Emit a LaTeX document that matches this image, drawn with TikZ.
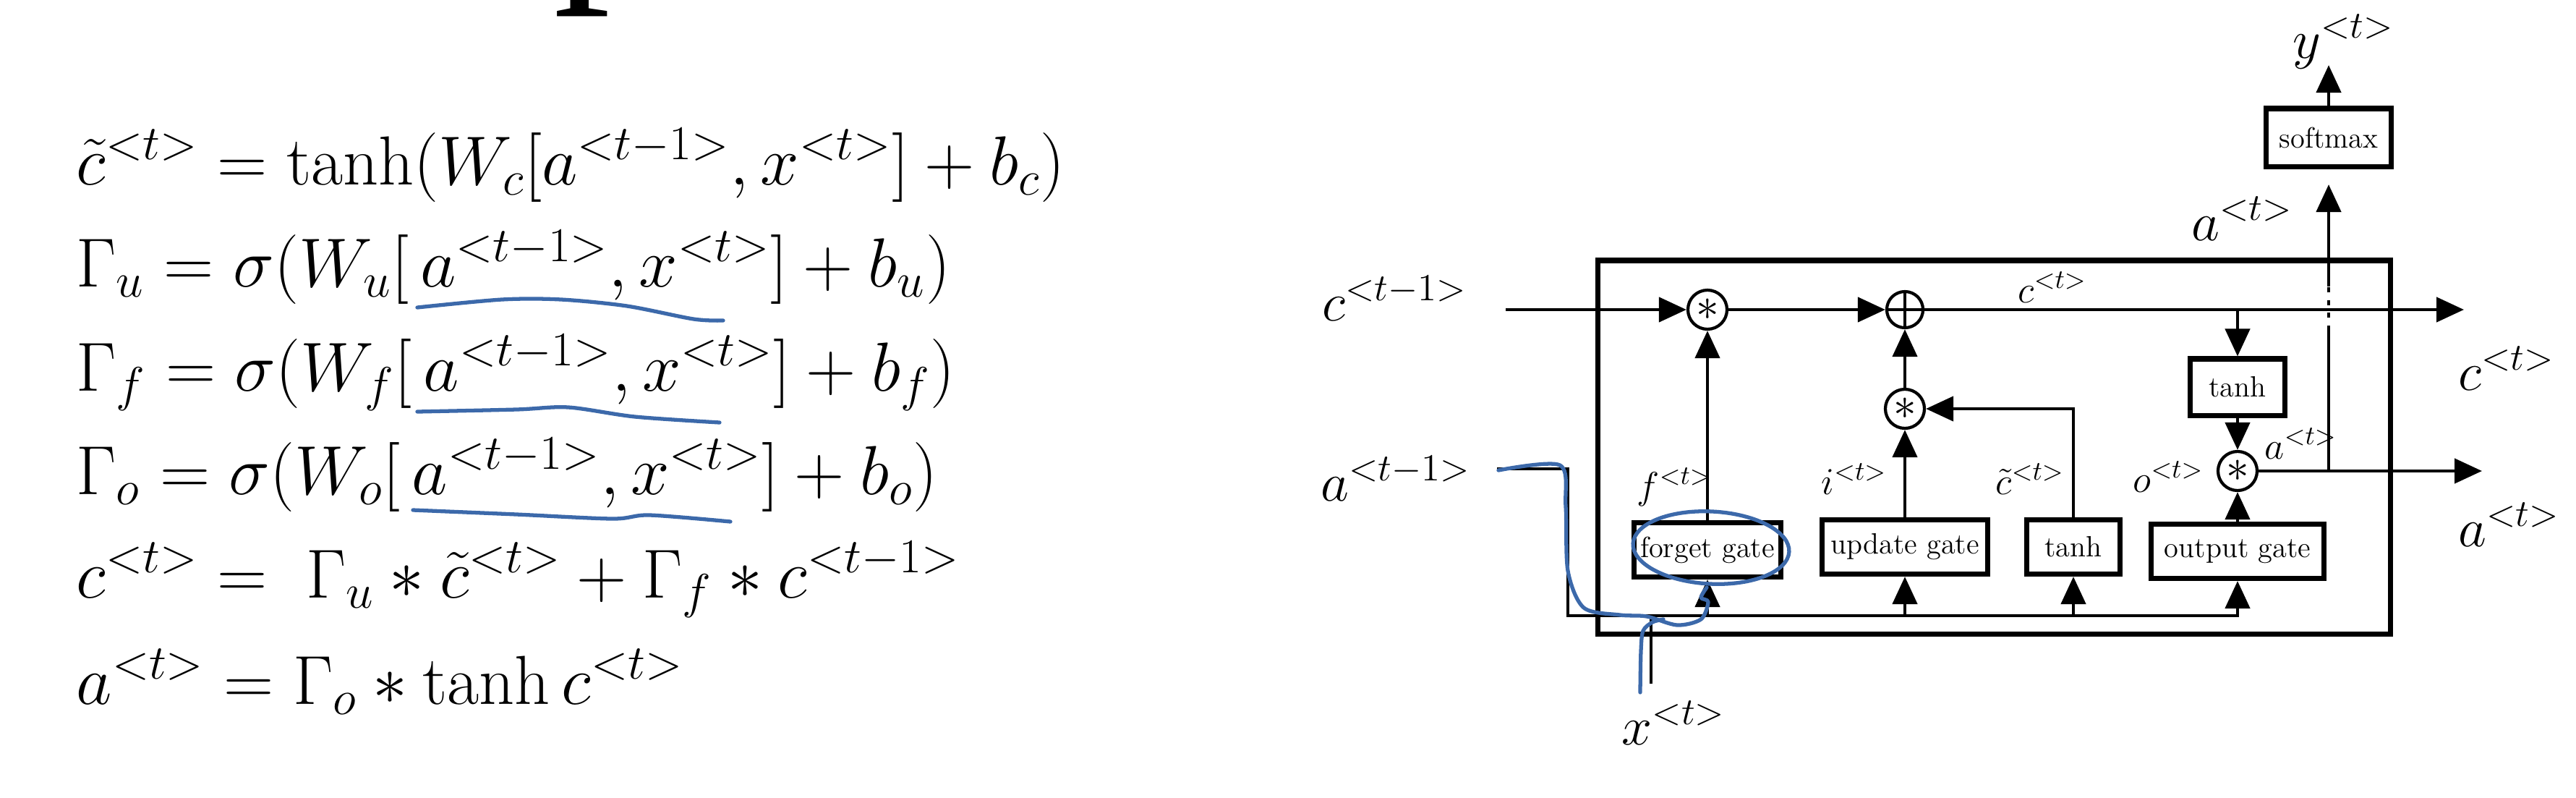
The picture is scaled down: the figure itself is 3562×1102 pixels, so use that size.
\RequirePackage{fix-cm}
\documentclass[tikz,border=0pt]{standalone}
\usepackage{amsmath,amssymb}
\usepackage{fontspec}
\newfontfamily\headfont{Liberation Serif}
\usetikzlibrary{calc,arrows.meta}
\definecolor{penblue}{RGB}{60,105,170}

\begin{document}
\begin{tikzpicture}[x=0.01cm,y=-0.01cm,
    >={Triangle[length=3.8mm,width=3.4mm]},
    wire/.style={line width=1.3pt},
    gatebox/.style={draw,line width=2pt,minimum height=0.75cm,inner sep=0pt,
        font=\fontsize{11.5}{12}\selectfont},
    op/.style={draw,circle,line width=1.2pt,minimum size=0.54cm,inner sep=0pt,
        font=\fontsize{18}{18}\selectfont},
    eq/.style={anchor=base west,inner sep=0pt,font=\fontsize{27.3}{32}\selectfont},
    lbl/.style={anchor=base west,inner sep=0pt,font=\fontsize{21.5}{26}\selectfont},
    inlbl/.style={anchor=base west,inner sep=0pt,font=\fontsize{15}{18}\selectfont},
    pen/.style={penblue,line width=1.5pt,line cap=round,line join=round}]

    \useasboundingbox (0,0) rectangle (3562,1102);

    % Title (cut off at the top)
    \node[anchor=base west,inner sep=0pt,font=\headfont\fontsize{90}{90}\selectfont] (title) at (765,-45) {p};

    % Equations
    \node[eq] (e1) at (105,255) {$\tilde{c}^{<t>} = \tanh(W_c[a^{<t-1>},x^{<t>}] + b_c)$};
    \node[eq] (e2) at (105,396) {$\Gamma_u = \sigma(W_u[\,a^{<t-1>},x^{<t>}] + b_u)$};
    \node[eq] (e3) at (105,540) {$\Gamma_f = \sigma(W_f[\,a^{<t-1>},x^{<t>}] + b_f)$};
    \node[eq] (e4) at (105,683) {$\Gamma_o = \sigma(W_o[\,a^{<t-1>},x^{<t>}] + b_o)$};
    \node[eq] (e5) at (105,826) {$c^{<t>} = \;\Gamma_u * \tilde{c}^{<t>} + \Gamma_f * c^{<t-1>}$};
    \node[eq] (e6) at (105,973) {$a^{<t>} = \Gamma_o * \tanh c^{<t>}$};

    % Pen underlines
    \draw[pen] plot[smooth] coordinates {(577,425) (694,414) (776,414) (867,423) (959,441) (1000,443)};
    \draw[pen] plot[smooth] coordinates {(577,569) (714,566) (786,563) (878,576) (995,584)};
    \draw[pen] plot[smooth] coordinates {(571,705) (714,711) (847,717) (898,712) (1010,721)};

    % Cell
    \draw[line width=2pt] (2209,360) rectangle (3305,876);

    % Operations
    \node[op] (fm) at (2361,428) {$*$};
    \node[op,minimum size=0.5cm,path picture={
        \draw[line width=1.2pt] (path picture bounding box.north) -- (path picture bounding box.south)
            (path picture bounding box.west) -- (path picture bounding box.east);}] (add) at (2634,428) {};
    \node[op] (um) at (2634,565) {$*$};
    \node[op] (om) at (3094,651) {$*$};

    % Gates
    \node[gatebox,minimum width=2.03cm] (forget) at (2361,760) {forget gate};
    \node[gatebox,minimum width=2.28cm] (update) at (2634,756) {update gate};
    \node[gatebox,minimum width=1.29cm] (cand) at (2867,756) {tanh};
    \node[gatebox,minimum width=2.38cm] (output) at (3094,762) {output gate};
    \node[gatebox,minimum width=1.31cm,minimum height=0.78cm] (squash) at (3094,535) {tanh};
    \node[gatebox,minimum width=1.72cm,minimum height=0.8cm] (soft) at (3220,190) {softmax};

    % Ends of the wires
    \coordinate (cin) at (2082,428);
    \coordinate (cout) at (3407,428);
    \coordinate (ain) at (2070,648);
    \coordinate (bus) at (2168,851);
    \coordinate (xin) at (2283,945);
    \coordinate (aout) at (3432,651);
    \coordinate (gapB) at (3220,457);
    \coordinate (gapT) at (3220,396);
    \coordinate (atip) at (3220,255);
    \coordinate (ytip) at (3220,90);

    % Memory line
    \draw[wire,->] (cin) -- (fm);
    \draw[wire,->] (fm) -- (add);
    \draw[wire,->] (add) -- (cout);
    \draw[wire,->] (squash |- add) -- (squash);

    % Inputs
    \draw[wire,->] (ain) -| (bus) -| (output);
    \draw[wire] (xin) -- (xin |- bus);
    \draw[wire,->] (forget |- bus) -- (forget);
    \draw[wire,->] (update |- bus) -- (update);
    \draw[wire,->] (cand |- bus) -- (cand);

    % Gates to operations
    \draw[wire,->] (forget) -- (fm);
    \draw[wire,->] (update) -- (um);
    \draw[wire,->] (um) -- (add);
    \draw[wire,->] (cand) |- (um);
    \draw[wire,->] (squash) -- (om);
    \draw[wire,->] (output) -- (om);
    \draw[wire,->] (om) -- (aout);

    % Output to softmax
    \draw[wire] (soft |- om) -- (gapB);
    \draw[wire,dash pattern=on 2pt off 3pt] (gapB) -- (gapT);
    \draw[wire,->] (gapT) -- (atip);
    \draw[wire,->] (soft) -- (ytip);

    % Labels
    \node[lbl] (lcprev) at (1828,443) {$c^{<t-1>}$};
    \node[lbl] (laprev) at (1826,692) {$a^{<t-1>}$};
    \node[lbl] (lx) at (2242,1029) {$x^{<t>}$};
    \node[lbl] (lcout) at (3399,539) {$c^{<t>}$};
    \node[lbl] (laout) at (3399,755) {$a^{<t>}$};
    \node[lbl] (latop) at (3030,332) {$a^{<t>}$};
    \node[lbl] (ly) at (3170,80) {$y^{<t>}$};
    \node[inlbl] (lf) at (2263,689) {$f^{<t>}$};
    \node[inlbl] (li) at (2518,683) {$i^{<t>}$};
    \node[inlbl] (lct) at (2759,683) {$\tilde{c}^{<t>}$};
    \node[inlbl] (lo) at (2949,680) {$o^{<t>}$};
    \node[inlbl] (lc) at (2790,418) {$c^{<t>}$};
    \node[inlbl] (la) at (3131,634) {$a^{<t>}$};

    % Pen marks on the cell
    \draw[pen] plot[smooth] coordinates {(2072,650) (2157,643) (2165,700) (2168,789) (2190,840) (2240,850) (2277,852) (2319,864) (2352,856) (2362,832) (2352,826) (2360,812)};
    \draw[pen,rotate around={-3:(2366,757)}] (2366,757) ellipse (1.08cm and 0.5cm);
    \draw[pen] plot[smooth] coordinates {(2268,957) (2269,900) (2272,872) (2285,860) (2300,856)};
\end{tikzpicture}
\end{document}
